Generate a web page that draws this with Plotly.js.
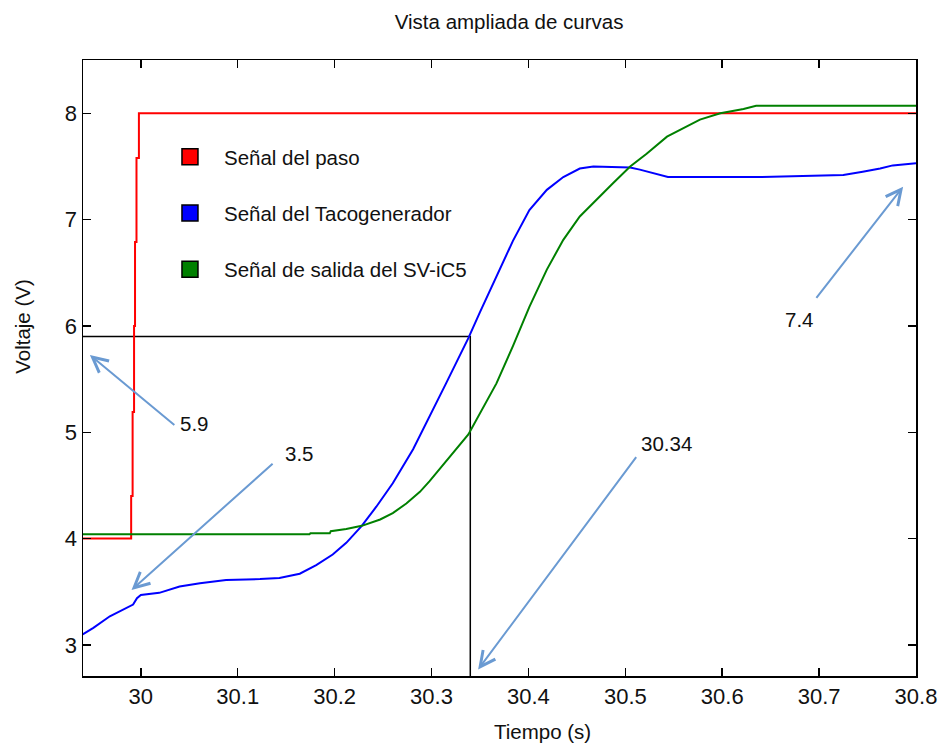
<!DOCTYPE html>
<html>
<head>
<meta charset="utf-8">
<script src="https://cdn.plot.ly/plotly-3.0.1.min.js"></script>
<style>
  html, body { margin: 0; padding: 0; background: #ffffff; }
  #chart { width: 941px; height: 745px; }
</style>
</head>
<body>
<div id="chart"></div>
<script>
// ---------------- data ----------------
const seriesNames = ["Señal del paso", "Señal del Tacogenerador", "Señal de salida del SV-iC5"];
const seriesColors = ["#ff0000", "#0000ff", "#008000"];

// Step signal (red)
const stepX = [29.94, 29.990, 29.990, 29.9915, 29.9915, 29.993, 29.993, 29.994, 29.994, 29.9955, 29.9955, 29.998, 29.998, 30.8];
const stepY = [4.0, 4.0, 4.40, 4.40, 5.19, 5.19, 6.0, 6.0, 6.79, 6.79, 7.58, 7.58, 8.0, 8.0];

// Tachogenerator signal (blue)
const tacoX = [29.94, 29.951, 29.968, 29.985, 29.992, 29.996, 30.0, 30.019, 30.04, 30.061, 30.088, 30.123, 30.143, 30.164,
               30.181, 30.198, 30.212, 30.228, 30.243, 30.26, 30.281, 30.315, 30.338, 30.35, 30.367, 30.384, 30.401,
               30.419, 30.436, 30.453, 30.467, 30.505, 30.515, 30.528, 30.544, 30.635, 30.725, 30.745, 30.763, 30.776, 30.8];
const tacoY = [3.10, 3.16, 3.27, 3.35, 3.38, 3.44, 3.47, 3.49, 3.55, 3.58, 3.61, 3.62, 3.63, 3.67,
               3.75, 3.85, 3.96, 4.12, 4.30, 4.52, 4.84, 5.46, 5.885, 6.13, 6.47, 6.80, 7.09,
               7.28, 7.40, 7.48, 7.50, 7.49, 7.47, 7.44, 7.40, 7.40, 7.42, 7.45, 7.48, 7.51, 7.53];

// SV-iC5 output signal (green)
const outX = [29.94, 30.174, 30.175, 30.195, 30.196, 30.212, 30.228, 30.247, 30.26, 30.274, 30.288, 30.298, 30.338,
              30.367, 30.384, 30.401, 30.419, 30.436, 30.453, 30.47, 30.487, 30.505, 30.522, 30.543, 30.556, 30.577,
              30.598, 30.622, 30.635, 30.8];
const outY = [4.04, 4.04, 4.05, 4.05, 4.07, 4.09, 4.12, 4.18, 4.24, 4.33, 4.44, 4.54, 4.98,
              5.46, 5.81, 6.18, 6.53, 6.81, 7.03, 7.19, 7.34, 7.50, 7.62, 7.78, 7.84, 7.94,
              8.0, 8.04, 8.07, 8.07];

// Reference (black) guide lines: y = 5.9 up to t = 30.34, then down to the axis
const guideX = [29.94, 30.34, 30.34];
const guideY = [5.9, 5.9, 2.7];

// Annotation labels
const noteLabels = ["5.9", "3.5", "30.34", "7.4"];

// Axis tick values
const xTicks = [30, 30.1, 30.2, 30.3, 30.4, 30.5, 30.6, 30.7, 30.8];
const yTicks = [3, 4, 5, 6, 7, 8];

// ---------------- positions / styles ----------------
const FONT = "Liberation Sans, Arial, Helvetica, sans-serif";
const noteTextPos = [[30.0557, 5.078], [30.1641, 4.803], [30.5425, 4.897], [30.680, 6.056]];
const noteArrowTail = [[30.0351, 5.064], [30.1365, 4.709], [30.5116, 4.771], [30.6968, 6.260]];
const noteArrowHead = [[29.9474, 5.727], [29.9904, 3.517], [30.3481, 2.769], [30.7867, 7.310]];
const arrowColor = "rgb(106,154,210)";

const lineSets = [[stepX, stepY], [tacoX, tacoY], [outX, outY]];
const traces = [];

traces.push({
  x: guideX, y: guideY, mode: "lines", type: "scatter",
  line: { color: "#000000", width: 1.5 }, showlegend: false, hoverinfo: "skip"
});

lineSets.forEach((s, i) => {
  traces.push({
    x: s[0], y: s[1], mode: "lines", type: "scatter",
    line: { color: seriesColors[i], width: 2 }, showlegend: false, name: seriesNames[i]
  });
});

// legend entries with square swatches
seriesNames.forEach((n, i) => {
  traces.push({
    x: [null], y: [null], mode: "markers", type: "scatter", name: n,
    legendgroup: "g" + i,
    marker: { symbol: "square", size: 16, color: seriesColors[i], line: { color: "#000000", width: 1.5 } }
  });
});

const annotations = [];
noteLabels.forEach((t, i) => {
  annotations.push({
    x: noteArrowHead[i][0], y: noteArrowHead[i][1], xref: "x", yref: "y",
    ax: noteArrowTail[i][0], ay: noteArrowTail[i][1], axref: "x", ayref: "y",
    text: "", showarrow: true, arrowhead: 5, arrowsize: 1.5, arrowwidth: 2,
    arrowcolor: arrowColor, font: { size: 1 }, borderpad: 0
  });
  annotations.push({
    x: noteTextPos[i][0], y: noteTextPos[i][1], xref: "x", yref: "y",
    text: t, showarrow: false, font: { family: FONT, size: 20.5, color: "#111111" }
  });
});

// axis titles placed as in the reference
annotations.push({
  x: 0.5516, y: -0.0904, xref: "paper", yref: "paper", text: "Tiempo (s)", showarrow: false,
  font: { family: FONT, size: 20.5, color: "#111111" }, xanchor: "center", yanchor: "middle"
});
annotations.push({
  x: -0.0736, y: 0.568, xref: "paper", yref: "paper", text: "Voltaje (V)", showarrow: false,
  textangle: -90, font: { family: FONT, size: 20.5, color: "#111111" }, xanchor: "center", yanchor: "middle"
});

const axisCommon = {
  showgrid: false, zeroline: false, showline: true, linecolor: "#000000", linewidth: 1.5,
  ticks: "inside", ticklen: 8, tickwidth: 1.5, tickcolor: "#000000", mirror: "ticks",
  tickfont: { family: FONT, size: 22, color: "#111111" }
};

const layout = {
  width: 941, height: 745,
  margin: { l: 83, r: 25, t: 60, b: 69 },
  paper_bgcolor: "#ffffff", plot_bgcolor: "#ffffff",
  font: { family: FONT, color: "#111111" },
  title: {
    text: "Vista ampliada de curvas", x: 0.541, xref: "container", xanchor: "center",
    y: 0.9705, yref: "container", yanchor: "middle",
    font: { family: FONT, size: 20.5, color: "#111111" }
  },
  xaxis: Object.assign({}, axisCommon, {
    range: [29.9403, 30.8], tickvals: xTicks, ticktext: xTicks.map(String)
  }),
  yaxis: Object.assign({}, axisCommon, {
    range: [2.708, 8.501], tickvals: yTicks, ticktext: yTicks.map(String)
  }),
  showlegend: true,
  legend: {
    x: 0.0876, xanchor: "left", y: 0.875, yanchor: "top",
    bgcolor: "rgba(0,0,0,0)", borderwidth: 0, itemwidth: 58,
    tracegroupgap: 26.5, traceorder: "grouped",
    font: { family: FONT, size: 20.5, color: "#111111" }
  },
  annotations: annotations
};

Plotly.newPlot("chart", traces, layout, { displayModeBar: false, staticPlot: true });
</script>
</body>
</html>
